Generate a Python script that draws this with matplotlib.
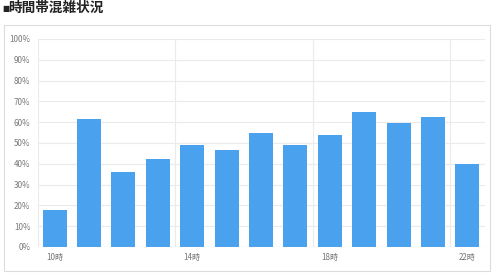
import matplotlib
matplotlib.use("Agg")
import matplotlib.pyplot as plt
from matplotlib.patches import Rectangle

plt.rcParams['font.family'] = ['Noto Sans CJK JP', 'DejaVu Sans']

title_mark = "■"
title = "時間帯混雑状況"
hours = list(range(10, 23))
values = [18, 61.5, 36, 42.5, 49, 46.5, 55, 49, 54, 65, 59.5, 62.5, 40]
tick_hours = [10, 14, 18, 22]
tick_labels = [f"{h}時" for h in tick_hours]
y_ticks = list(range(0, 101, 10))
y_labels = [f"{v}%" for v in y_ticks]

fig = plt.figure(figsize=(5.0, 2.76), dpi=100)
fig.patch.set_facecolor('white')

# outer container box
fig.patches.append(Rectangle((4/500, 5/276), 486/500, 246/276, transform=fig.transFigure,
                             fill=False, edgecolor='#dcdcdc', linewidth=0.8))

fig.text(2/500, 1 - 8.5/276, title_mark, fontsize=5.5, color='#222222',
         ha='left', va='center', family='DejaVu Sans')
fig.text(8.5/500, 1 - 8/276, title, fontsize=9.8, fontweight='bold', color='#222222',
         ha='left', va='center')

ax = fig.add_axes([37.5/500, 29/276, 447/500, 208/276])
x = [h - hours[0] for h in hours]
ax.bar(x, values, width=0.70, color='#4aa2ee', zorder=3)

ax.set_xlim(-0.5, len(hours) - 0.5)
ax.set_ylim(0, 100)

ax.set_yticks(y_ticks)
ax.set_yticklabels(y_labels)
ax.set_xticks([h - hours[0] for h in tick_hours])
ax.set_xticklabels(tick_labels)
ax.tick_params(axis='both', length=0, labelsize=5.8, labelcolor='#777777')
ax.tick_params(axis='y', pad=5)
ax.tick_params(axis='x', pad=4)

for v in y_ticks[1:]:
    ax.axhline(v, color='#ebebeb', linewidth=0.8, zorder=1)
for b in [-0.5, 3.5, 7.5, 11.5]:
    ax.axvline(b, color='#ebebeb', linewidth=0.8, zorder=1)
ax.axhline(0, color='#bbbbbb', linewidth=0.8, zorder=4)

for s in ax.spines.values():
    s.set_visible(False)

fig.savefig('out.png', dpi=100)
